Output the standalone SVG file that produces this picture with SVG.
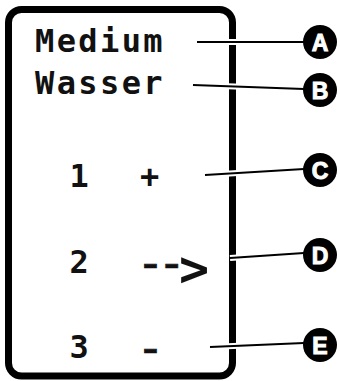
<svg xmlns="http://www.w3.org/2000/svg" width="340" height="381" viewBox="0 0 340 381">
<style>
.t{font-family:"DejaVu Sans Mono","Liberation Mono",monospace;font-weight:bold;font-size:32px;letter-spacing:2.4px;fill:#111}
.d{font-size:48px;letter-spacing:-7.6px;font-weight:normal;stroke:#111;stroke-width:0.6}
.g{font-size:50px;letter-spacing:0}
.halo{stroke:#fff;stroke-width:6;fill:none}
.ln{stroke:#000;stroke-width:2.2;fill:none}
.badge{fill:#000}
.bl{font-family:"Liberation Sans",Arial,sans-serif;font-weight:bold;font-size:23px;fill:#fff;stroke:#fff;stroke-width:1;text-anchor:middle}
</style>
<rect width="340" height="381" fill="#fff"/>
<g id="box">
<rect x="8.5" y="9.5" width="224" height="366.5" rx="13" fill="#fff" stroke="#000" stroke-width="7"/>
<text class="t" x="35" y="52">Medium</text>
<text class="t" x="35" y="94">Wasser</text>
<text class="t" y="187"><tspan x="69.5">1</tspan><tspan x="140">+</tspan></text>
<text class="t" y="273"><tspan x="69.5">2</tspan><tspan class="d" x="136" y="279">--</tspan><tspan class="g" x="179" y="286">&gt;</tspan></text>
<text class="t" y="358"><tspan x="69.5">3</tspan><tspan class="d" x="136" y="364">-</tspan></text>
</g>
<g id="connectors">
<path class="halo" d="M197,42L304,42M193,85L304,89M205,175L304,169M230,258L304,253M210,347L304,343"/>
<path class="ln" d="M197,42L304,42M193,85L304,89M205,175L304,169M230,258L304,253M210,347L304,343"/>
</g>
<g id="A"><circle class="badge" cx="320" cy="42" r="17"/><text class="bl" x="320" y="50.5">A</text></g>
<g id="B"><circle class="badge" cx="320" cy="90" r="17"/><text class="bl" x="320" y="98.5">B</text></g>
<g id="C"><circle class="badge" cx="320" cy="170" r="17"/><text class="bl" x="320" y="178.5">C</text></g>
<g id="D"><circle class="badge" cx="320" cy="255" r="17"/><text class="bl" x="320" y="263.5">D</text></g>
<g id="E"><circle class="badge" cx="320" cy="345" r="17"/><text class="bl" x="320" y="353.5">E</text></g>
</svg>
